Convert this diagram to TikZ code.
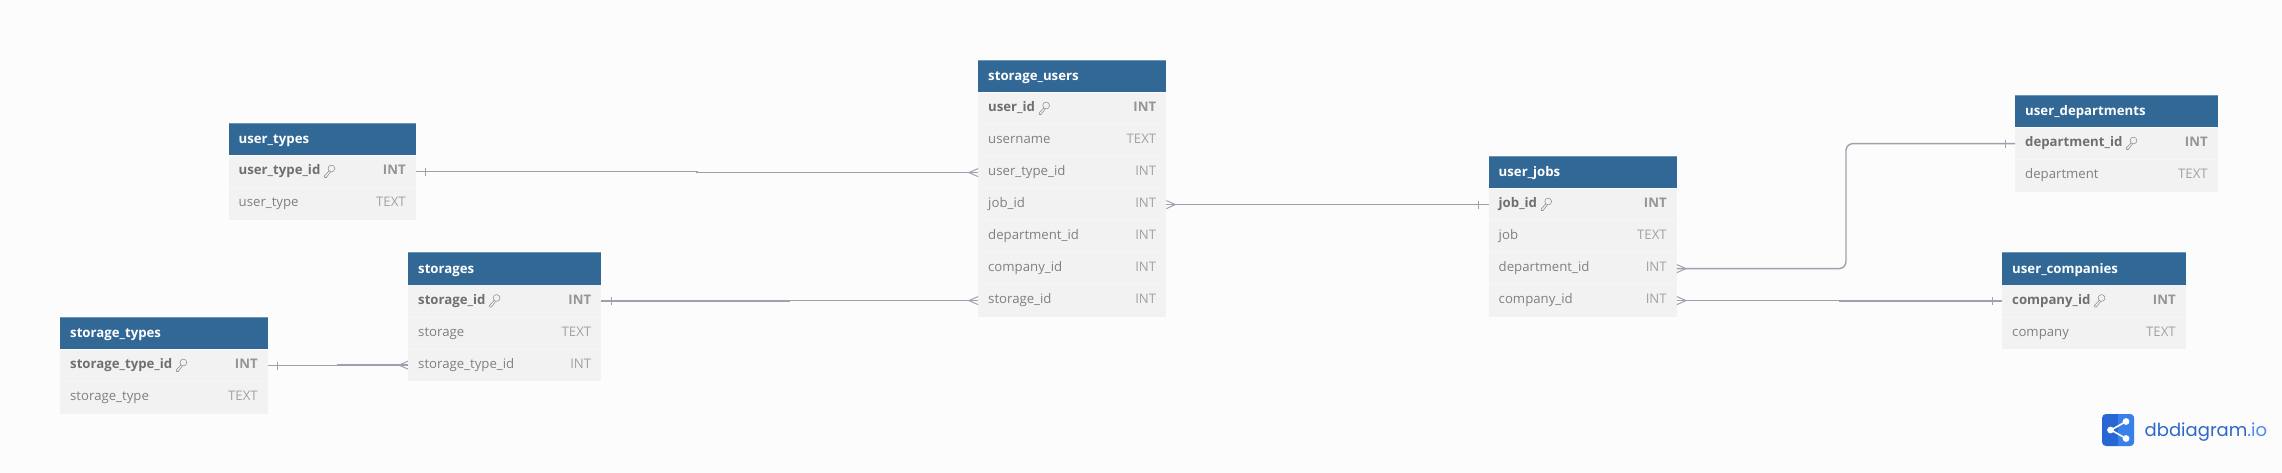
\documentclass[tikz,border=0pt]{standalone}
\usepackage{fontspec}
\setmainfont{Open Sans}
\newfontfamily\logofont{Poppins}
\usetikzlibrary{calc}
\definecolor{pagebg}{HTML}{FCFCFD}
\definecolor{hdrblue}{HTML}{316896}
\definecolor{hdredge}{HTML}{6C96B8}
\definecolor{rowbg}{HTML}{F2F2F3}
\definecolor{rowsep}{HTML}{F6F6F7}
\definecolor{pkname}{HTML}{6F6F6F}
\definecolor{plainname}{HTML}{808080}
\definecolor{pktype}{HTML}{959595}
\definecolor{plaintype}{HTML}{A2A2A2}
\definecolor{relline}{HTML}{A0A0AC}
\definecolor{logodark}{HTML}{2766D3}
\definecolor{logolight}{HTML}{3A80EA}
\definecolor{logotxt}{HTML}{2C67C9}
\definecolor{logoio}{HTML}{4A8CEE}
\tikzset{
  x=1pt,y=-1pt,
  hdrbox/.style={fill=hdrblue,draw=none,inner sep=0pt,minimum height=32pt,anchor=north west},
  rowbox/.style={fill=rowbg,draw=none,inner sep=0pt,minimum height=32pt,anchor=north west},
  titletxt/.style={text=white,font=\fontsize{13.2}{15}\selectfont\bfseries,anchor=base west,inner sep=0pt},
  nametxt/.style={font=\fontsize{13.2}{15}\selectfont,anchor=base west,inner sep=0pt},
  typetxt/.style={font=\fontsize{13.2}{15}\selectfont,anchor=base east,inner sep=0pt},
  rel/.style={draw=relline,line width=1.4pt},
  relend/.style={draw=relline,line width=1pt},
  keyicon/.style={draw=pkname!80,line width=.55pt,line cap=round},
}
\newcommand{\dbtable}[6]{%
  \node[hdrbox,minimum width=#4pt] (#1) at (#2,#3) {};
  \draw[draw=hdredge,line width=.6pt] (#1.north west) -- (#1.north east);
  \node[titletxt] (#1-title) at ($(#1.west)+(10,4.4)$) {#5};
  \foreach \nm/\tp/\pk [count=\i] in {#6} {
    \node[rowbox,minimum width=#4pt] (#1-\i) at ($(#1.south west)+(0,{(\i-1)*32})$) {};
    \ifnum\i>1
      \draw[draw=rowsep,line width=.7pt] (#1-\i.north west) -- (#1-\i.north east);
    \fi
    \ifnum\pk=1
      \node[nametxt,text=pkname,font=\fontsize{13.2}{15}\selectfont\bfseries] (#1-\i-n) at ($(#1-\i.west)+(10,3.2)$) {\nm};
      \node[typetxt,text=pktype,font=\fontsize{13.2}{15}\selectfont\bfseries] (#1-\i-t) at ($(#1-\i.east)+(-10,3.2)$) {\tp};
      \begin{scope}[shift={($(#1-\i-n.base east)+(3.5,0.5)$)},keyicon]
        \draw (7.4,-6.8) circle[radius=3.4];
        \draw (5,-4.4) -- (0.3,0.7) -- (0.6,2.2) -- (2.2,2.2) -- (6.4,-3.2);
      \end{scope}
    \else
      \node[nametxt,text=plainname] (#1-\i-n) at ($(#1-\i.west)+(10,3.2)$) {\nm};
      \node[typetxt,text=plaintype] (#1-\i-t) at ($(#1-\i.east)+(-10,3.2)$) {\tp};
    \fi
  }
}
% fork (many) and tick (one) at a table edge; #2 = +1 outward to the right, -1 to the left
\newcommand{\manyend}[2]{\draw[relend] ($(#1)+({#2*9},0)$) -- ($(#1)+(0,-4)$) ($(#1)+({#2*9},0)$) -- ($(#1)+(0,4)$);}
\newcommand{\oneend}[2]{\draw[relend] ($(#1)+({#2*10},-4)$) -- ($(#1)+({#2*10},4)$);}
\newcommand{\relation}[3][]{%
  \coordinate (midp) at ($(#2)!.5!(#3)$);
  \draw[rel,#1] (#2) -| (midp) |- (#3);}
\begin{document}
\begin{tikzpicture}
\useasboundingbox (0,0) rectangle (2282,473);
\fill[pagebg] (0,0) rectangle (2282,473);

\dbtable{ut}{228.5}{123}{187}{user\_types}{user\_type\_id/INT/1,user\_type/TEXT/0}
\dbtable{st}{60}{317}{207.5}{storage\_types}{storage\_type\_id/INT/1,storage\_type/TEXT/0}
\dbtable{sg}{408}{252.5}{193}{storages}{storage\_id/INT/1,storage/TEXT/0,storage\_type\_id/INT/0}
\dbtable{su}{978}{60}{188}{storage\_users}{user\_id/INT/1,username/TEXT/0,user\_type\_id/INT/0,job\_id/INT/0,department\_id/INT/0,company\_id/INT/0,storage\_id/INT/0}
\dbtable{uj}{1488.5}{156}{188}{user\_jobs}{job\_id/INT/1,job/TEXT/0,department\_id/INT/0,company\_id/INT/0}
\dbtable{ud}{2015}{95}{202.5}{user\_departments}{department\_id/INT/1,department/TEXT/0}
\dbtable{uc}{2002}{252.5}{183.5}{user\_companies}{company\_id/INT/1,company/TEXT/0}

\relation{ut-1.east}{su-3.west}
\relation{sg-1.east}{su-7.west}
\relation{st-1.east}{sg-3.west}
\relation{su-4.east}{uj-1.west}
\relation[rounded corners=7pt]{uj-3.east}{ud-1.west}
\relation{uj-4.east}{uc-1.west}

\oneend{ut-1.east}{1}
\manyend{su-3.west}{-1}
\oneend{sg-1.east}{1}
\manyend{su-7.west}{-1}
\oneend{st-1.east}{1}
\manyend{sg-3.west}{-1}
\manyend{su-4.east}{1}
\oneend{uj-1.west}{-1}
\manyend{uj-3.east}{1}
\oneend{ud-1.west}{-1}
\manyend{uj-4.east}{1}
\oneend{uc-1.west}{-1}

% logo
\node[fill=logodark,rounded corners=4pt,minimum width=32pt,minimum height=32pt,inner sep=0pt] (logo) at (2118,430) {};
\begin{scope}
  \clip[rounded corners=4pt] (2102,414) rectangle (2134,446);
  \fill[logolight] (2118,414) rectangle (2134,446);
\end{scope}
\draw[white,line width=1.6pt] (2126,421.5) -- (2111,430) -- (2126,438.5);
\fill[white] (2110.5,430) circle[radius=3.4] (2126,421.5) circle[radius=3.4] (2126,438.5) circle[radius=3.4];
\node[anchor=base west,inner sep=0pt,font=\logofont\fontsize{18}{22}\selectfont,text=logotxt] (logotext) at (2144.5,436.5) {dbdiagram\textcolor{logoio}{.io}};
\end{tikzpicture}
\end{document}
